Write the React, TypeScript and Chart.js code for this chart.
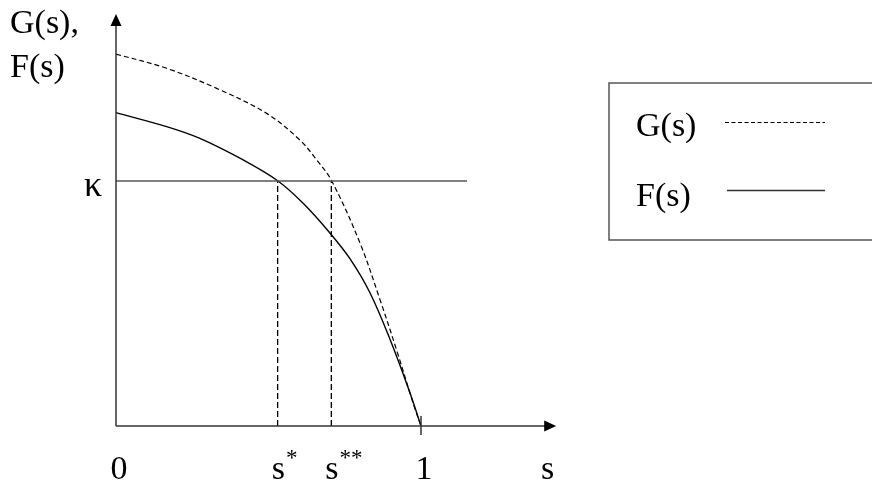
import React, { useEffect, useRef } from "react";
import { Chart, registerables } from "chart.js";

Chart.register(...registerables);

// ---- data (s on x, function value on y; kappa = 1) ----
const sG = [0, 0.166, 0.33, 0.494, 0.603, 0.658, 0.707, 0.8, 0.866, 0.92, 0.975, 1];
const gValues = [1.518, 1.46, 1.378, 1.276, 1.167, 1.086, 1.001, 0.747, 0.514, 0.31, 0.09, 0];
const sF = [0, 0.166, 0.275, 0.417, 0.53, 0.616, 0.702, 0.767, 0.833, 0.898, 0.964, 1];
const fValues = [1.279, 1.222, 1.174, 1.086, 1.001, 0.906, 0.787, 0.683, 0.543, 0.355, 0.135, 0];
const kappa = 1;
const kappaLineEnd = 1.151;
const sStar = 0.53;
const sStarStar = 0.706;
const xAxisEnd = 1.44;
const yAxisEnd = 1.678;
const tickHalf = [-0.037, 0.041];
const xTickValues = [0, sStar, sStarStar, 1, 1.405];
const xTickLabels = ["0", "s*", "s**", "1", "s"];
const yAxisTitle = ["G(s),", "F(s)"];
const kappaLabel = "κ";
const legendLabels = ["G(s)", "F(s)"];

const FONT = "34px 'Liberation Serif', 'Times New Roman', serif";

const pts = (xs: number[], ys: number[]) => xs.map((x, i) => ({ x, y: ys[i] }));

export default function App() {
  const ref = useRef<HTMLCanvasElement | null>(null);
  useEffect(() => {
    if (!ref.current) return;
    const decor = {
      id: "decor",
      afterDatasetsDraw(chart: any) {
        const ctx = chart.ctx as CanvasRenderingContext2D;
        const xs = chart.scales.x;
        const ys = chart.scales.y;
        const x0 = xs.getPixelForValue(0);
        const y0 = ys.getPixelForValue(0);
        ctx.save();
        // arrows
        ctx.fillStyle = "#000";
        const xe = xs.getPixelForValue(xAxisEnd);
        ctx.beginPath();
        ctx.moveTo(xe + 1, y0);
        ctx.lineTo(xe - 11, y0 - 5.5);
        ctx.lineTo(xe - 11, y0 + 5.5);
        ctx.closePath();
        ctx.fill();
        const ye = ys.getPixelForValue(yAxisEnd);
        ctx.beginPath();
        ctx.moveTo(x0, ye - 1);
        ctx.lineTo(x0 - 5.5, ye + 11);
        ctx.lineTo(x0 + 5.5, ye + 11);
        ctx.closePath();
        ctx.fill();
        // text
        ctx.font = FONT;
        ctx.fillStyle = "#000";
        ctx.textBaseline = "alphabetic";
        xTickValues.forEach((v, i) => {
          const lab = xTickLabels[i];
          const px = xs.getPixelForValue(v);
          if (lab.startsWith("s") && lab.length > 1) {
            ctx.textAlign = "left";
            ctx.fillText("s", px - 6, y0 + 53);
            const w = ctx.measureText("s").width;
            ctx.font = "23px 'Liberation Serif', serif";
            ctx.fillText(lab.slice(1), px - 6 + w + 1, y0 + 39);
            ctx.font = FONT;
          } else {
            ctx.textAlign = "center";
            ctx.fillText(lab, px + 3, y0 + 53);
          }
        });
        ctx.textAlign = "left";
        ctx.fillText(yAxisTitle[0], 10, 33);
        ctx.fillText(yAxisTitle[1], 10, 77);
        ctx.textAlign = "center";
        ctx.font = "36px 'Liberation Serif', serif";
        ctx.fillText(kappaLabel, x0 - 23, ys.getPixelForValue(kappa) + 15);
        ctx.font = FONT;
        // legend box
        ctx.strokeStyle = "#555";
        ctx.lineWidth = 1.5;
        ctx.strokeRect(609, 83, 300, 157);
        ctx.textAlign = "left";
        ctx.fillText(legendLabels[0], 636, 136);
        ctx.fillText(legendLabels[1], 636, 206);
        ctx.strokeStyle = "#000";
        ctx.lineWidth = 1;
        ctx.setLineDash([4, 2.5]);
        ctx.beginPath();
        ctx.moveTo(725, 122.5);
        ctx.lineTo(825, 122.5);
        ctx.stroke();
        ctx.setLineDash([]);
        ctx.strokeStyle = "#333";
        ctx.lineWidth = 1.5;
        ctx.beginPath();
        ctx.moveTo(727, 190.5);
        ctx.lineTo(825, 190.5);
        ctx.stroke();
        ctx.restore();
      },
    };
    const line = (data: any[], color: string, width: number, dash: number[] = []) => ({
      data,
      borderColor: color,
      borderWidth: width,
      borderDash: dash,
      showLine: true,
      pointRadius: 0,
      fill: false,
      clip: false as any,
    });
    const chart = new Chart(ref.current, {
      type: "scatter",
      data: {
        datasets: [
          line([{ x: 0, y: 0 }, { x: xAxisEnd - 0.03, y: 0 }], "#333", 1.5),
          line([{ x: 0, y: 0 }, { x: 0, y: yAxisEnd - 0.03 }], "#333", 1.5),
          line([{ x: 1, y: tickHalf[0] }, { x: 1, y: tickHalf[1] }], "#333", 1.5),
          line([{ x: 0, y: kappa }, { x: kappaLineEnd, y: kappa }], "#555", 1.5),
          line([{ x: sStar, y: 0 }, { x: sStar, y: kappa }], "#000", 1.3, [6, 3]),
          line([{ x: sStarStar, y: 0 }, { x: sStarStar, y: kappa }], "#000", 1.3, [6, 3]),
          { ...line(pts(sG, gValues), "#000", 1.2, [5, 3]), tension: 0.35 },
          { ...line(pts(sF, fValues), "#000", 1.4), tension: 0.35 },
        ] as any,
      },
      options: {
        animation: false,
        responsive: false,
        devicePixelRatio: 1,
        layout: { padding: { left: 116, right: 298.5, top: 9.5, bottom: 64 } },
        scales: {
          x: { type: "linear", min: 0, max: 1.5, display: false },
          y: { type: "linear", min: 0, max: 1.7, display: false },
        },
        plugins: { legend: { display: false }, tooltip: { enabled: false } },
      },
      plugins: [decor],
    });
    return () => chart.destroy();
  }, []);
  return (
    <div style={{ position: "absolute", left: 0, top: 0, width: 872, height: 490, background: "#fff" }}>
      <canvas ref={ref} width={872} height={490} style={{ display: "block" }} />
    </div>
  );
}
